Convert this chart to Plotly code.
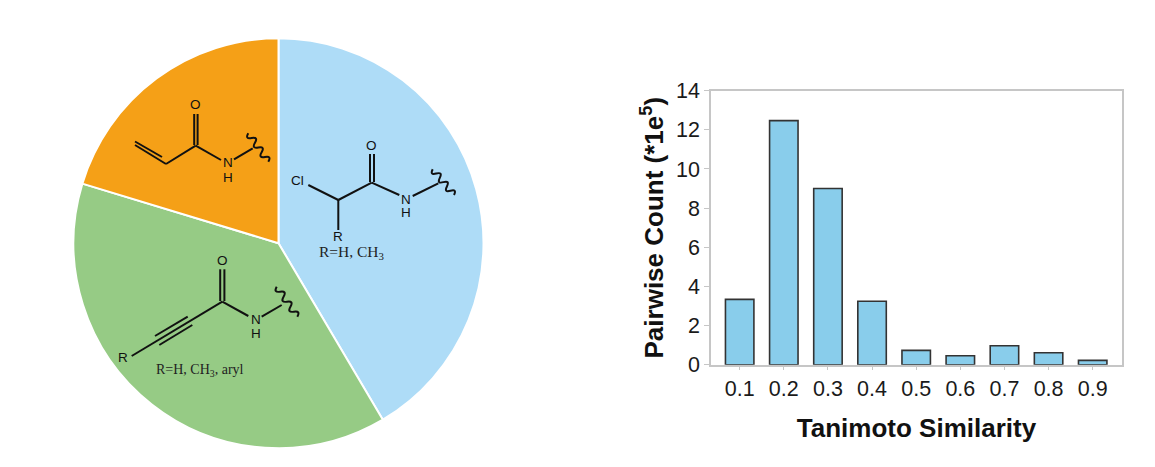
import plotly.graph_objects as go

W, H = 1155, 467

# ---- data ----
pie_labels = ["Chloroacetamide", "Propiolamide", "Acrylamide"]
pie_values = [41.5, 38.2, 20.3]
pie_colors = ["#AEDCF7", "#96CB85", "#F5A017"]

similarity = [0.1, 0.2, 0.3, 0.4, 0.5, 0.6, 0.7, 0.8, 0.9]
pair_counts = [3.34, 12.47, 9.0, 3.24, 0.73, 0.46, 0.97, 0.61, 0.22]
x_tick_labels = ["0.1", "0.2", "0.3", "0.4", "0.5", "0.6", "0.7", "0.8", "0.9"]
y_ticks = [0, 2, 4, 6, 8, 10, 12, 14]


def px(x):
    return x / W


def py(y):
    return 1 - y / H


fig = go.Figure()
fig.add_trace(go.Pie(
    labels=pie_labels, values=pie_values, sort=False, direction="clockwise", rotation=0,
    marker=dict(colors=pie_colors, line=dict(color="white", width=2)),
    textinfo="none", showlegend=False,
    domain=dict(x=[px(73.5), px(483.5)], y=[py(448.5), py(38)]),
))
fig.add_trace(go.Bar(
    x=similarity, y=pair_counts, width=0.0645, showlegend=False,
    marker=dict(color="#89CDEB", line=dict(color="#333333", width=1.6)),
))

# ---- chemical structure sketches (decoration drawn in pixel positions) ----
INK = "#111111"
bonds = [
    # acrylamide
    (135, 145, 166, 164), (135, 141.5, 162, 157), (166, 164, 195.7, 145.7),
    (194.2, 145, 194.2, 114), (197.6, 145, 197.6, 114), (195.7, 145.7, 221, 160),
    (234, 159.3, 252.7, 148.3),
    # chloroacetamide
    (308.3, 185, 338.3, 200), (338.3, 200, 338.3, 230), (338.3, 200, 371.7, 182.7),
    (370, 182, 370, 154), (374, 182, 374, 154), (371.7, 182.7, 399.3, 195),
    (412.7, 196, 438.3, 183.3),
    # propiolamide
    (131.7, 356, 222.3, 301.7), (155, 336, 187.7, 316.7), (159.3, 345, 192.3, 325),
    (220.2, 301, 220.2, 269.3), (224.4, 301, 224.4, 269.3), (222.3, 301.7, 248.3, 316),
    (261.7, 316.7, 281.7, 305),
]
for x0, y0, x1, y1 in bonds:
    fig.add_shape(type="line", xref="paper", yref="paper",
                  x0=px(x0), y0=py(y0), x1=px(x1), y1=py(y1),
                  line=dict(color=INK, width=2))


def wiggle(x0, y0, x1, y1, n=6, amp=3.2):
    dx, dy = (x1 - x0) / n, (y1 - y0) / n
    nx, ny = -dy, dx
    norm = (nx * nx + ny * ny) ** 0.5
    nx, ny = nx / norm, ny / norm
    d = f"M {px(x0)} {py(y0)}"
    for i in range(n):
        s = amp * (1 if i % 2 == 0 else -1)
        cx = x0 + dx * (i + 0.5) + nx * s * 2
        cy = y0 + dy * (i + 0.5) + ny * s * 2
        d += f" Q {px(cx)} {py(cy)} {px(x0 + dx * (i + 1))} {py(y0 + dy * (i + 1))}"
    return d


for seg in [(248.3, 133.3, 268.3, 161.7), (432.7, 169.3, 454, 195), (276.7, 286.7, 297.3, 316.7)]:
    fig.add_shape(type="path", xref="paper", yref="paper", path=wiggle(*seg),
                  line=dict(color=INK, width=2))

atoms = [
    ("O", 195.7, 104), ("N", 227.7, 162.7), ("H", 227.7, 177),
    ("O", 371.7, 145.3), ("Cl", 297.7, 180), ("N", 405.7, 199.3), ("H", 405.7, 212), ("R", 338.3, 236.5),
    ("O", 222.3, 260), ("N", 255.7, 319), ("H", 255.7, 333.3), ("R", 123.3, 357.3),
]
for txt, x, y in atoms:
    fig.add_annotation(text=txt, xref="paper", yref="paper", x=px(x), y=py(y), showarrow=False,
                       xanchor="center", yanchor="middle",
                       font=dict(family="Liberation Sans", size=13.5, color=INK))

notes = [("R=H, CH<sub>3</sub>", 351, 252.5, 15.5), ("R=H, CH<sub>3</sub>, aryl", 200, 370.5, 14)]
for txt, x, y, size in notes:
    fig.add_annotation(text=txt, xref="paper", yref="paper", x=px(x), y=py(y), showarrow=False,
                       xanchor="center", yanchor="middle",
                       font=dict(family="Liberation Serif", size=size, color="#222222"))

AXIS = "#C6C6C6"
TICKF = dict(family="Liberation Sans", size=21.5, color="#1A1A1A")
TITLEF = dict(family="Liberation Sans", size=26, color="#111111", weight="bold")
fig.update_layout(
    width=W, height=H, margin=dict(l=0, r=0, t=0, b=0, pad=0, autoexpand=False),
    paper_bgcolor="white", plot_bgcolor="white", showlegend=False,
    xaxis=dict(domain=[px(711), px(1122)], range=[0.035, 0.9664], automargin=False,
               tickmode="array", tickvals=similarity, ticktext=x_tick_labels,
               ticks="outside", ticklen=4, tickcolor=AXIS, tickwidth=1, tickfont=TICKF,
               showline=True, linecolor=AXIS, linewidth=1.5, mirror=True, showgrid=False, zeroline=False,
               title=dict(text="Tanimoto Similarity", font=TITLEF, standoff=19)),
    yaxis=dict(domain=[py(364.7), py(90.7)], range=[0, 14], automargin=False,
               tickmode="array", tickvals=y_ticks,
               ticks="outside", ticklen=5, tickcolor=AXIS, tickwidth=1, tickfont=TICKF,
               showline=True, linecolor=AXIS, linewidth=1.5, mirror=True, showgrid=False, zeroline=False,
               title=dict(text="Pairwise Count (*1e<sup>5</sup>)", font=TITLEF, standoff=5)),
)
fig.write_html("out.html", config={"displayModeBar": False},
               post_script="document.body.style.margin='0';document.body.style.overflow='hidden';")
